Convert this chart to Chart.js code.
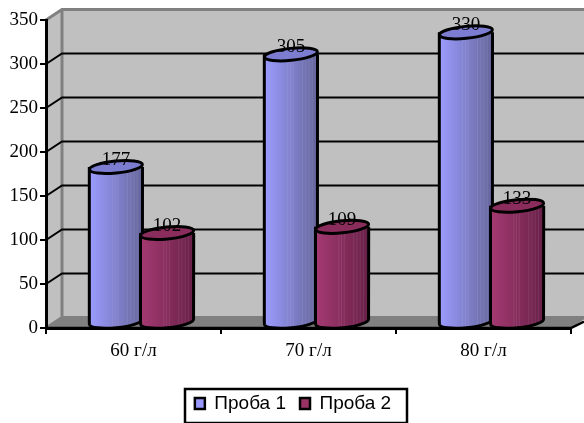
<!DOCTYPE html>
<html>
<head>
<meta charset="utf-8">
<style>
  html, body { margin: 0; padding: 0; background: #fff; }
  canvas { display: block; }
</style>
<script src="https://cdn.jsdelivr.net/npm/chart.js@4"></script>
</head>
<body>
<canvas id="dataChart" width="584" height="423"></canvas>
<script>
const categories = ['60 г/л', '70 г/л', '80 г/л'];
const proba1 = [177, 305, 330];
const proba2 = [102, 109, 133];

// 3D depth of the box, px
const depthX = 16;
const depthY = 10.5;
const serif = "'Liberation Serif', 'Times New Roman', serif";
const sans = "'Liberation Sans', Arial, sans-serif";

// Walls, floor and grid of the pseudo 3D box
const wallsPlugin = {
    id: 'walls',
    afterLayout(chart) {
        // legend sits a little right of the plot centre
        chart.legend.left += 3.5;
        chart.legend.right += 3.5;
    },
    beforeDraw(chart) {
        const { ctx, chartArea: a, scales } = chart;
        const right = chart.width;
        ctx.save();
        ctx.fillStyle = '#c0c0c0';
        ctx.beginPath();
        ctx.moveTo(a.left, a.top);
        ctx.lineTo(a.left + depthX, a.top - depthY);
        ctx.lineTo(right, a.top - depthY);
        ctx.lineTo(right, a.bottom - depthY);
        ctx.lineTo(a.left + depthX, a.bottom - depthY);
        ctx.lineTo(a.left, a.bottom);
        ctx.closePath();
        ctx.fill();

        // floor
        ctx.fillStyle = '#808080';
        ctx.beginPath();
        ctx.moveTo(a.left, a.bottom);
        ctx.lineTo(a.left + depthX, a.bottom - depthY);
        ctx.lineTo(right, a.bottom - depthY);
        ctx.lineTo(right, a.bottom - depthY + 2);
        ctx.lineTo(a.right, a.bottom);
        ctx.closePath();
        ctx.fill();

        // wall edges
        ctx.strokeStyle = '#808080';
        ctx.lineWidth = 3;
        ctx.beginPath();
        ctx.moveTo(a.left, a.top);
        ctx.lineTo(a.left + depthX, a.top - depthY);
        ctx.lineTo(right, a.top - depthY);
        ctx.moveTo(a.left + depthX, a.top - depthY);
        ctx.lineTo(a.left + depthX, a.bottom - depthY);
        ctx.moveTo(a.left, a.bottom);
        ctx.lineTo(a.left + depthX, a.bottom - depthY);
        ctx.lineTo(right, a.bottom - depthY);
        ctx.stroke();

        // grid lines
        ctx.strokeStyle = '#000';
        ctx.lineWidth = 2;
        ctx.beginPath();
        scales.y.ticks.forEach(t => {
            if (t.value === 0 || t.value === scales.y.max) return;
            const y = scales.y.getPixelForValue(t.value);
            ctx.moveTo(a.left, y);
            ctx.lineTo(a.left + depthX, y - depthY);
            ctx.lineTo(right, y - depthY);
        });
        ctx.stroke();

        // front edge of the floor
        ctx.lineWidth = 2.5;
        ctx.beginPath();
        ctx.moveTo(a.left, a.bottom);
        ctx.lineTo(a.right, a.bottom);
        ctx.lineTo(right, a.bottom - depthY + 4);
        ctx.stroke();
        ctx.restore();
    }
};

function drawCylinder(ctx, cx, topY, baseY, rx, shades) {
    const ry = 6;
    const tilt = -0.1;
    const grad = ctx.createLinearGradient(cx - rx, 0, cx + rx, 0);
    grad.addColorStop(0, shades.light);
    grad.addColorStop(1, shades.dark);

    ctx.beginPath();
    ctx.moveTo(cx - rx, topY);
    ctx.lineTo(cx - rx, baseY);
    ctx.ellipse(cx, baseY, rx, ry, tilt, Math.PI, 0, true);
    ctx.lineTo(cx + rx, topY);
    ctx.closePath();
    ctx.fillStyle = grad;
    ctx.fill();

    // faint banding of the old renderer
    ctx.save();
    ctx.clip();
    ctx.strokeStyle = 'rgba(255, 255, 255, 0.09)';
    ctx.lineWidth = 1;
    ctx.beginPath();
    [0.44, 0.49, 0.54, 0.72, 0.78, 0.84, 0.9].forEach(f => {
        const x = cx - rx + f * 2 * rx;
        ctx.moveTo(x, topY);
        ctx.lineTo(x, baseY + ry);
    });
    ctx.stroke();
    ctx.restore();

    ctx.beginPath();
    ctx.moveTo(cx - rx, topY);
    ctx.lineTo(cx - rx, baseY);
    ctx.ellipse(cx, baseY, rx, ry, tilt, Math.PI, 0, true);
    ctx.lineTo(cx + rx, topY);
    ctx.strokeStyle = '#000';
    ctx.lineWidth = 3;
    ctx.stroke();

    ctx.beginPath();
    ctx.ellipse(cx, topY, rx, ry, tilt, 0, Math.PI * 2);
    ctx.fillStyle = shades.top;
    ctx.fill();
    ctx.stroke();
}

const cylinderShades = [
    { light: '#9c9cff', dark: '#66669c', top: '#7c7cd0' },
    { light: '#a53a72', dark: '#682048', top: '#8a2c5c' }
];

// Cylinders and value labels, placed from the bar elements
const cylindersPlugin = {
    id: 'cylinders',
    afterDatasetsDraw(chart) {
        const { ctx } = chart;
        ctx.save();
        chart.data.datasets.forEach((ds, i) => {
            chart.getDatasetMeta(i).data.forEach(bar => {
                const cx = bar.x + depthX / 2;
                drawCylinder(ctx, cx, bar.y - depthY / 2, bar.base - depthY / 2, bar.width / 2 + 1, cylinderShades[i]);
            });
        });
        ctx.fillStyle = '#000';
        ctx.font = '19px ' + serif;
        ctx.textAlign = 'center';
        ctx.textBaseline = 'middle';
        chart.data.datasets.forEach((ds, i) => {
            chart.getDatasetMeta(i).data.forEach((bar, j) => {
                ctx.fillText(ds.data[j], bar.x + depthX / 2, bar.y - depthY / 2 - 7);
            });
        });
        ctx.restore();
    },
    afterDraw(chart) {
        // frame around the legend, its bottom edge runs off the picture
        const { ctx } = chart;
        ctx.save();
        ctx.strokeStyle = '#000';
        ctx.lineWidth = 2.5;
        ctx.strokeRect(185, 389, 222, 34);
        ctx.restore();
    }
};

const chart = new Chart(document.getElementById('dataChart').getContext('2d'), {
    type: 'bar',
    data: {
        labels: categories,
        datasets: [
            { label: 'Проба 1', data: proba1, backgroundColor: 'transparent', borderWidth: 0 },
            { label: 'Проба 2', data: proba2, backgroundColor: 'transparent', borderWidth: 0 }
        ]
    },
    options: {
        responsive: false,
        animation: false,
        layout: { padding: { left: 8, right: 13, top: 20, bottom: 0 } },
        datasets: { bar: { categoryPercentage: 0.585, barPercentage: 1 } },
        plugins: {
            tooltip: { enabled: false },
            title: { display: false },
            legend: {
                position: 'bottom',
                onClick: null,
                labels: {
                    generateLabels() {
                        return cylinderShades.map((s, i) => ({
                            text: i ? 'Проба 2' : 'Проба 1',
                            fillStyle: i ? '#993366' : '#9999ff',
                            strokeStyle: '#000',
                            lineWidth: 2.5,
                            datasetIndex: i
                        }));
                    },
                    boxWidth: 10,
                    boxHeight: 11,
                    padding: 14,
                    color: '#000',
                    font: { family: sans, size: 19 }
                }
            }
        },
        scales: {
            x: {
                afterFit(scale) { scale.height = 52; },
                border: { color: '#000', width: 3 },
                grid: { drawOnChartArea: false, drawTicks: true, tickLength: 6, color: '#000', lineWidth: 2 },
                ticks: { color: '#000', font: { family: serif, size: 19 }, padding: 6, maxRotation: 0 }
            },
            y: {
                min: 0,
                max: 350,
                afterFit(scale) { scale.width = 38; },
                border: { color: '#000', width: 3 },
                grid: { drawOnChartArea: false, drawTicks: true, tickLength: 6, color: '#000', lineWidth: 2 },
                ticks: { stepSize: 50, color: '#000', font: { family: serif, size: 19 }, padding: 2 }
            }
        }
    },
    plugins: [wallsPlugin, cylindersPlugin]
});
</script>
</body>
</html>
